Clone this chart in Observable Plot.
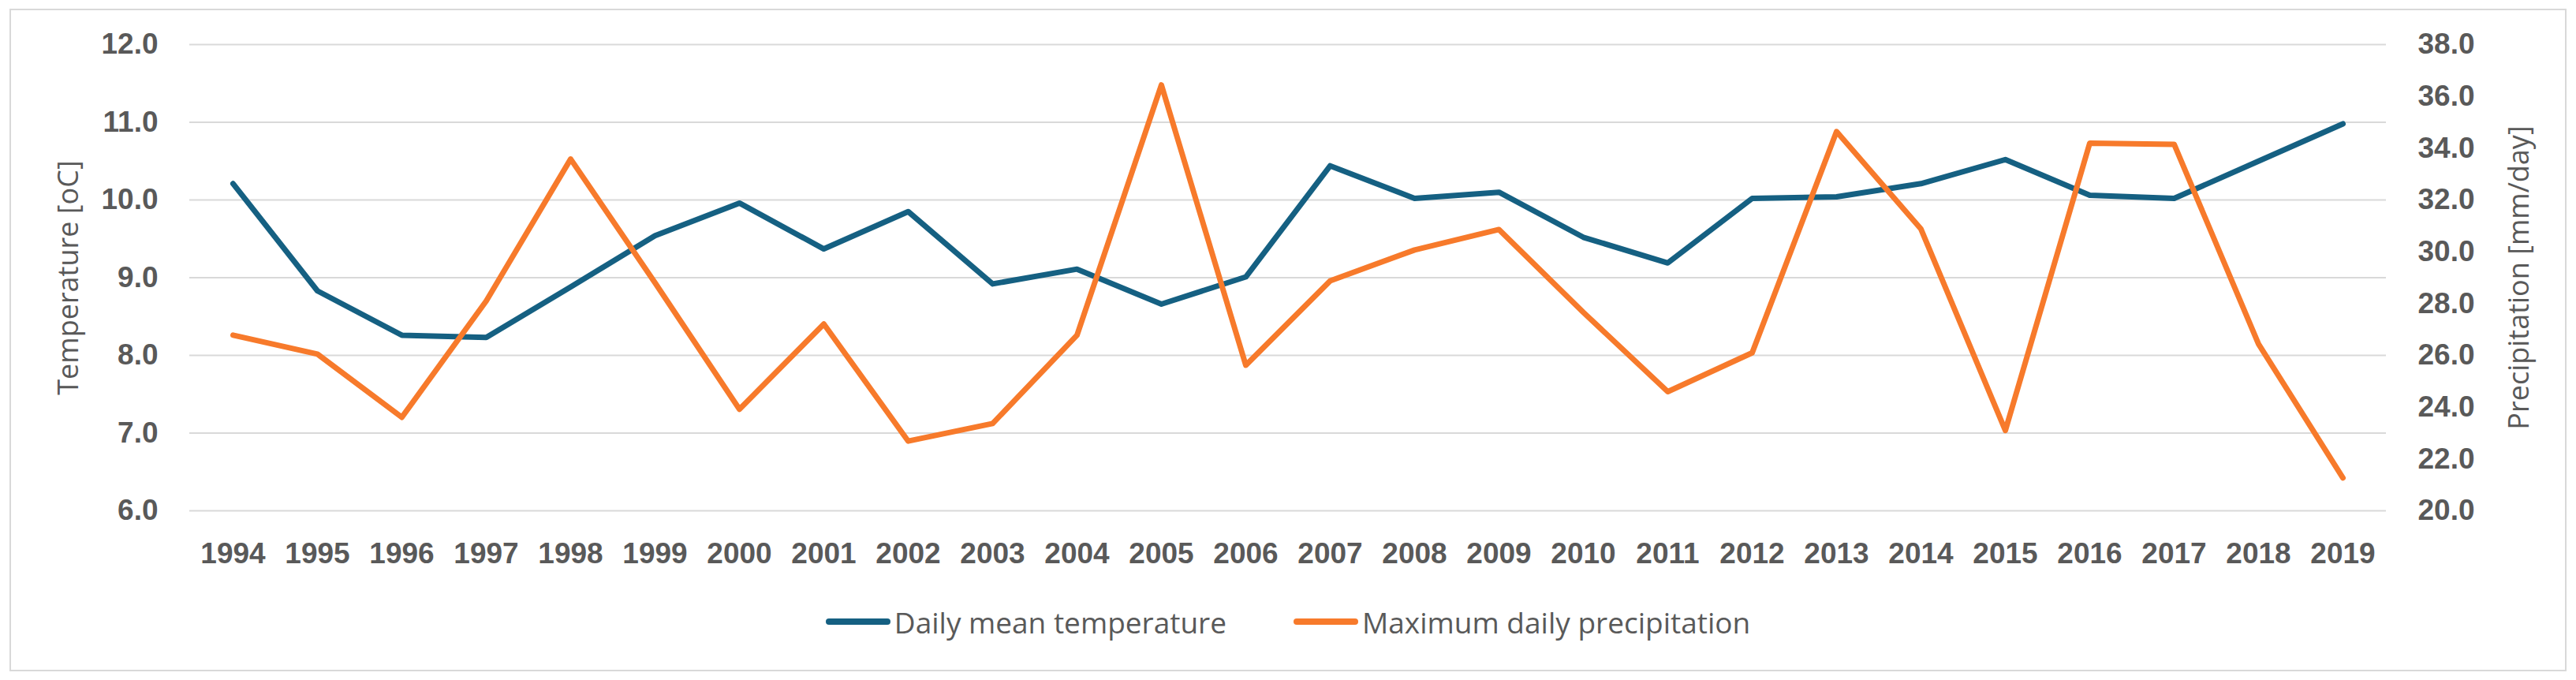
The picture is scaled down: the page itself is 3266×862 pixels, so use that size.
<!DOCTYPE html>
<html>
<head>
<meta charset="utf-8">
<script src="https://cdn.jsdelivr.net/npm/d3@7"></script>
<script src="https://cdn.jsdelivr.net/npm/@observablehq/plot@0.6"></script>
<style>
  html, body { margin: 0; padding: 0; background: #ffffff; }
  #wrap { position: relative; width: 3266px; height: 862px; overflow: hidden; background: #fff; }
  #frame { position: absolute; left: 12px; top: 11px; width: 3238px; height: 836px; border: 2px solid #d9d9d9; box-sizing: content-box; }
  #chart { position: absolute; left: 0; top: 0; }
  #chart svg text { font-family: "Liberation Sans", Arial, sans-serif; }
  #chart g[aria-label="y-axis label"], #chart g[aria-label="y-axis label"] text {
    font-family: "Open Sans", sans-serif !important; font-size: 36px !important; font-weight: normal !important;
  }
  #legend { position: absolute; left: 0; top: 763px; width: 3266px; height: 50px; display: flex; justify-content: center; align-items: center;
    font-family: "Open Sans", sans-serif; font-size: 37px; color: #595959; }
  .item { display: flex; align-items: center; }
  .item + .item { margin-left: 85px; }
  .sw { width: 82px; height: 8px; border-radius: 4px; margin-right: 5px; }
</style>
</head>
<body>
<div id="wrap">
  <div id="frame"></div>
  <div id="chart"></div>
  <div id="legend"></div>
</div>
<script>
const years = ["1994","1995","1996","1997","1998","1999","2000","2001","2002","2003","2004","2005","2006","2007","2008","2009","2010","2011","2012","2013","2014","2015","2016","2017","2018","2019"];
const temperature = [10.21, 8.83, 8.26, 8.23, 8.88, 9.54, 9.96, 9.37, 9.85, 8.92, 9.11, 8.66, 9.01, 10.44, 10.02, 10.10, 9.52, 9.19, 10.02, 10.04, 10.21, 10.52, 10.06, 10.02, 10.50, 10.98];
const precipitation = [26.78, 26.05, 23.61, 28.10, 33.58, 28.80, 23.92, 27.21, 22.69, 23.37, 26.78, 36.44, 25.62, 28.88, 30.07, 30.86, 27.66, 24.60, 26.10, 34.64, 30.88, 23.10, 34.19, 34.15, 26.44, 21.27];
const tempTicks = [6, 7, 8, 9, 10, 11, 12];
const precipTicks = [20, 22, 24, 26, 28, 30, 32, 34, 36, 38];
const seriesNames = ["Daily mean temperature", "Maximum daily precipitation"];
const seriesColors = ["#156082", "#F77A2B"];

// map precipitation axis [20,38] onto temperature axis [6,12]
const toTemp = p => 6 + (p - 20) * 6 / 18;
const fromTemp = t => 20 + (t - 6) * 18 / 6;

const data = years.map((year, i) => ({year, temperature: temperature[i], precipitation: precipitation[i]}));

const axisStyle = {tickSize: 0, tickPadding: 40, fontSize: 37, fontWeight: "bold", color: "#595959"};

const chart = Plot.plot({
  width: 3266,
  height: 740,
  marginLeft: 240,
  marginRight: 241,
  marginTop: 56,
  marginBottom: 93,
  style: {background: "transparent", overflow: "visible"},
  x: {type: "point", domain: years, padding: 0.5},
  y: {domain: [6, 12]},
  marks: [
    Plot.gridY(tempTicks, {stroke: "#d9d9d9", strokeOpacity: 1, strokeWidth: 2}),
    Plot.axisX({...axisStyle, label: null}),
    Plot.axisY(tempTicks, {...axisStyle, anchor: "left", tickFormat: d => d.toFixed(1),
      label: "Temperature [oC]", labelAnchor: "center", labelOffset: 167, labelArrow: "none"}),
    Plot.axisY(precipTicks.map(toTemp), {...axisStyle, anchor: "right", tickFormat: t => fromTemp(t).toFixed(1),
      label: "Precipitation [mm/day]", labelAnchor: "center", labelOffset: 180, labelArrow: "none"}),
    Plot.line(data, {x: "year", y: "temperature", stroke: seriesColors[0], strokeWidth: 7, strokeLinecap: "round", strokeLinejoin: "round"}),
    Plot.line(data, {x: "year", y: d => toTemp(d.precipitation), stroke: seriesColors[1], strokeWidth: 7, strokeLinecap: "round", strokeLinejoin: "round"})
  ]
});
document.getElementById("chart").appendChild(chart);

const legend = document.getElementById("legend");
seriesNames.forEach((name, i) => {
  const item = document.createElement("div");
  item.className = "item";
  const sw = document.createElement("div");
  sw.className = "sw";
  sw.style.background = seriesColors[i];
  const label = document.createElement("span");
  label.textContent = name;
  item.appendChild(sw);
  item.appendChild(label);
  legend.appendChild(item);
});
</script>
</body>
</html>
